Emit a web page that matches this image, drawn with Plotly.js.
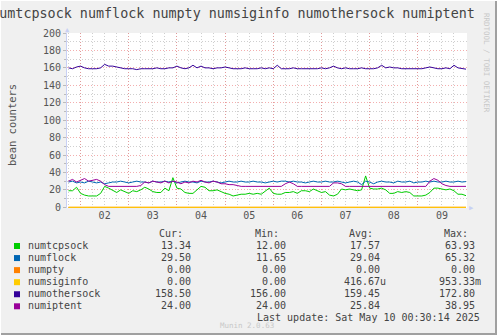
<!DOCTYPE html>
<html><head><meta charset="utf-8">
<script src="https://cdn.plot.ly/plotly-3.0.1.min.js"></script>
<style>html,body{margin:0;padding:0;background:#f0f0f0;}#chart{width:497px;height:335px;}</style>
</head><body><div id="chart"></div>
<script>
// ---- data (30-min munin averages read at 2-hour steps) ----
const startTime = '2025-05-01T18:00:00Z';
const stepHours = 2;
const seriesNames = ['numtcpsock','numflock','numpty','numsiginfo','numothersock','numiptent'];
const seriesColors = ['#00CC00','#0066B3','#FF8000','#FFCC00','#330099','#990099'];

const numtcpsock = [19,19,23,16,14,13,13,13,16,24,
  22,19,17,20,18,16,19,18,20,23,
  21,18,17,17,22,19,34,22,21,17,
  16,16,20,24,23,19,19,20,18,16,
  15,13,14,15,15,16,15,16,15,19,
  22,16,15,15,17,17,18,16,19,19,
  18,21,19,17,18,14,13,15,21,20,
  21,20,19,20,36,22,21,21,22,20,
  16,16,18,17,18,17,13,13,13,14,
  17,22,22,21,20,21,19,15,15,13.34];
const numflock = [29,30,28,29,28,30,29,28,29,27,
  28,29,29,30,29,28,29,30,29,29,
  28,30,29,29,30,29,30,28,29,30,
  29,29,28,30,29,29,30,29,28,29,
  30,29,29,30,29,29,30,29,29,28,
  29,30,29,30,30,29,30,29,29,28,
  29,30,29,29,30,29,29,30,29,28,
  29,30,29,26,30,29,27,29,30,29,
  29,28,30,29,29,30,28,29,29,30,
  29,30,29,29,30,29,29,30,29,29.5];
const numpty = [0,0];
const numsiginfo = [0,0];
const numothersock = [160,159,161,162,160,159,159,159,160,164,
  162,162,161,160,159,159,159,158,159,159,
  159,159,160,159,159,160,160,162,160,159,
  160,163,160,162,160,160,159,160,160,161,
  160,159,159,159,160,159,159,159,160,159,
  160,159,163,159,159,159,160,159,159,159,
  159,159,159,160,159,160,162,160,159,160,
  159,159,159,160,159,159,159,160,163,160,
  161,160,160,159,159,159,159,159,159,160,
  161,160,159,159,160,159,163,160,159,158.5];
const numiptent = [30,32,29,31,33,30,31,32,30,26,
  24,24,24,24,24,24,24,24,25,29,
  28,30,29,28,30,28,30,29,27,29,
  28,30,29,31,29,28,30,29,27,27,
  26,26,25,24,24,24,24,24,24,24,
  24,24,24,24,27,29,27,24,24,24,
  24,24,24,24,24,24,28,28,27,24,
  24,24,24,24,24,24,24,24,24,24,
  24,24,24,24,24,24,24,24,24,24,
  30,33,31,27,25,24,24,24,24,24];

const colHeaders = ['Cur:','Min:','Avg:','Max:'];
const curVals = ['13.34','29.50','0.00','0.00','158.50','24.00'];
const minVals = ['12.00','11.65','0.00','0.00','156.00','24.00'];
const avgVals = ['17.57','29.04','0.00','416.67u','159.45','25.84'];
const maxVals = ['63.93','65.32','0.00','953.33m','172.80','38.95'];
const dayLabels = ['02','03','04','05','06','07','08','09'];
const titleText = 'numtcpsock numflock numpty numsiginfo numothersock numiptent';
const yTitle = 'bean counters';
const lastUpdate = 'Last update: Sat May 10 00:30:14 2025';
const xRange = ['2025-05-01 17:15','2025-05-10 00:30'];

function fmt(d){
  const p=n=>String(n).padStart(2,'0');
  return d.getUTCFullYear()+'-'+p(d.getUTCMonth()+1)+'-'+p(d.getUTCDate())+' '+p(d.getUTCHours())+':'+p(d.getUTCMinutes());
}
const t0 = new Date(startTime).getTime();
const times = numtcpsock.map((_,i)=>fmt(new Date(t0+i*stepHours*3600000)));
const flatTimes = [times[0], times[times.length-1]];

const mono = 'DejaVu Sans Mono';
const seriesData = [numtcpsock,numflock,numpty,numsiginfo,numothersock,numiptent];
const traces = seriesData.map((ys,k)=>({
  type:'scatter', mode:'lines', name:seriesNames[k],
  x: ys.length===2 ? flatTimes : times, y: ys,
  xaxis: ys.length===2 ? 'x2' : 'x',
  line:{color:seriesColors[k], width:1}, hoverinfo:'skip'
}));
// ---- layout helpers (pixel -> paper) ----
const PL=67, PR=467, PT=33, PB=208;
const px = v => (v-PL)/(PR-PL);
const py = v => (PB-v)/(PB-PT);

const ann = [];
const shapes = [];
ann.push({text:yTitle, x:px(12), y:py(125), xref:'paper', yref:'paper', textangle:-90, showarrow:false,
  font:{family:mono,size:10.5,color:'#555'}, xanchor:'center', yanchor:'middle'});
ann.push({text:'RRDTOOL / TOBI OETIKER', x:px(486), y:py(63), xref:'paper', yref:'paper', textangle:90, showarrow:false,
  font:{family:mono,size:7.5,color:'#c8c8c8'}, xanchor:'center', yanchor:'middle'});
// axis arrows
ann.push({text:'▲', x:px(67), y:py(30), xref:'paper', yref:'paper', showarrow:false, font:{size:7,color:'#c8d0f4'}, xanchor:'center', yanchor:'middle'});
ann.push({text:'▶', x:px(471), y:py(208), xref:'paper', yref:'paper', showarrow:false, font:{size:7,color:'#c8d0f4'}, xanchor:'center', yanchor:'middle'});

const colHeadRight = [185,281,375,470];
const colValRight = [193,288,382,477];
const cols = [curVals,minVals,avgVals,maxVals];
const legFont = {family:mono,size:10,color:'#444'};
colHeaders.forEach((h,c)=>ann.push({text:h, x:px(colHeadRight[c]), y:py(233.5), xref:'paper', yref:'paper', showarrow:false, font:legFont, xanchor:'right', yanchor:'middle'}));
seriesNames.forEach((n,k)=>{
  const yc = 245 + 12.06*k;
  shapes.push({type:'rect', xref:'paper', yref:'paper', x0:px(14), x1:px(20), y0:py(yc-2), y1:py(yc+4), fillcolor:seriesColors[k], line:{width:0}});
  ann.push({text:n, x:px(26), y:py(yc), xref:'paper', yref:'paper', showarrow:false, font:legFont, xanchor:'left', yanchor:'middle'});
  cols.forEach((vals,c)=>{
    const v = vals[k];
    const suffix = /[a-zA-Z]$/.test(v) ? 6 : 0;
    ann.push({text:v, x:px(colValRight[c]+suffix), y:py(yc), xref:'paper', yref:'paper', showarrow:false, font:legFont, xanchor:'right', yanchor:'middle'});
  });
});
ann.push({text:lastUpdate, x:px(482), y:py(317.5), xref:'paper', yref:'paper', showarrow:false, font:legFont, xanchor:'right', yanchor:'middle'});
ann.push({text:'Munin 2.0.63', x:px(247), y:py(325), xref:'paper', yref:'paper', showarrow:false, font:{family:mono,size:7.5,color:'#c8c8c8'}, xanchor:'center', yanchor:'middle'});
// frame
shapes.push({type:'line', xref:'paper', yref:'paper', x0:px(496), x1:px(496), y0:py(0), y1:py(335), line:{color:'#a0a0a0', width:2}});
shapes.push({type:'line', xref:'paper', yref:'paper', x0:px(0), x1:px(497), y0:py(334), y1:py(334), line:{color:'#a0a0a0', width:2}});
shapes.push({type:'line', xref:'paper', yref:'paper', x0:px(0.5), x1:px(0.5), y0:py(0), y1:py(335), line:{color:'#ffffff', width:1}});
shapes.push({type:'line', xref:'paper', yref:'paper', x0:px(0), x1:px(497), y0:py(0.5), y1:py(0.5), line:{color:'#ffffff', width:1}});

const red = 'rgba(235,120,120,0.6)';
const gray = '#cfcfcf';
const dots = '1px,2px';
const layout = {
  width:497, height:335,
  margin:{l:PL, r:497-PR, t:PT, b:335-PB, pad:0},
  paper_bgcolor:'#f0f0f0', plot_bgcolor:'#ffffff',
  showlegend:false,
  font:{family:mono, size:10, color:'#555'},
  title:{text:titleText, font:{family:mono,size:13.4,color:'#444'}, x:233/497, xref:'container', xanchor:'center', y:1-13.5/335, yref:'container', yanchor:'middle'},
  xaxis:{type:'date', range:xRange, tickmode:'array',
    tickvals: dayLabels.map((d,i)=>'2025-05-'+d+' 12:00'), ticktext: dayLabels,
    showgrid:false, ticks:'', zeroline:false, showline:false,
    tickfont:{family:mono,size:10,color:'#555'},
    minor:{tickmode:'linear', tick0:'2025-05-02 00:00', dtick:21600000, showgrid:true, gridcolor:gray, griddash:dots, gridwidth:1, ticks:''},
    fixedrange:true},
  xaxis2:{type:'date', overlaying:'x', range:xRange, tickmode:'linear', tick0:'2025-05-02 00:00', dtick:86400000,
    showgrid:true, gridcolor:red, griddash:dots, gridwidth:1, showticklabels:false, ticks:'', zeroline:false, showline:false},
  yaxis:{range:[-0.8,200], tickmode:'linear', tick0:0, dtick:20, showgrid:true, gridcolor:red, griddash:dots, gridwidth:1,
    minor:{dtick:10, showgrid:true, gridcolor:gray, griddash:dots, ticks:'outside', ticklen:2, tickcolor:'#bbb'},
    ticks:'outside', ticklen:3, tickcolor:'#bbb', showline:true, linecolor:'#c8d0f4', linewidth:1, zeroline:false,
    tickfont:{family:mono,size:10,color:'#555'}, fixedrange:true},
  annotations:ann, shapes:shapes
};
Plotly.newPlot('chart', traces, layout, {staticPlot:true, displayModeBar:false});
</script></body></html>
